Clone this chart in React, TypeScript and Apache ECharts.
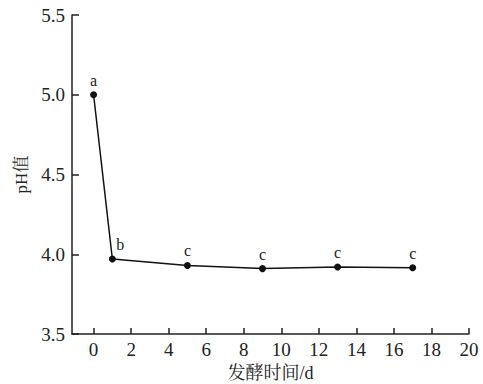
import React, { useEffect, useRef } from "react";
import * as echarts from "echarts";

const days = [0, 1, 5, 9, 13, 17];
const phValues = [5.0, 3.97, 3.93, 3.91, 3.92, 3.915];
const sigLetters = ["a", "b", "c", "c", "c", "c"];
const xTicks = [0, 2, 4, 6, 8, 10, 12, 14, 16, 18, 20];

const FONT = "'Liberation Serif', 'Times New Roman', serif, 'Noto Serif CJK SC', 'Noto Sans CJK SC'";

export default function App() {
  const ref = useRef<HTMLDivElement>(null);
  useEffect(() => {
    if (!ref.current) return;
    const chart = echarts.init(ref.current, undefined, { renderer: "svg" });
    chart.setOption({
      animation: false,
      grid: { left: 72, right: 14, top: 15, bottom: 50, containLabel: false, outerBoundsMode: "none" },
      xAxis: {
        type: "value",
        min: -1.15,
        max: 20,
        name: "发酵时间/d",
        nameLocation: "middle",
        nameGap: 30,
        nameTextStyle: { fontFamily: FONT, fontSize: 18, color: "#222" },
        axisLine: { onZero: false, lineStyle: { color: "#222", width: 1.5 } },
        axisTick: { inside: true, length: 6, customValues: xTicks, lineStyle: { color: "#222", width: 1.5 } },
        axisLabel: { customValues: xTicks, fontFamily: FONT, fontSize: 19, color: "#222", margin: 6 },
        splitLine: { show: false },
      },
      yAxis: {
        type: "value",
        min: 3.5,
        max: 5.5,
        interval: 0.5,
        name: "pH值",
        nameLocation: "middle",
        nameGap: 38,
        nameRotate: 90,
        nameTextStyle: { fontFamily: FONT, fontSize: 17, color: "#222" },
        axisLine: { show: true, onZero: false, lineStyle: { color: "#222", width: 1.5 } },
        axisTick: { show: true, inside: true, length: 7, lineStyle: { color: "#222", width: 1.5 } },
        axisLabel: {
          fontFamily: FONT,
          fontSize: 19,
          color: "#222",
          margin: 7,
          formatter: (v: number) => v.toFixed(1),
        },
        splitLine: { show: false },
      },
      series: [
        {
          type: "line",
          data: days.map((d, i) => [d, phValues[i]]),
          symbol: "circle",
          symbolSize: 7,
          itemStyle: { color: "#111" },
          lineStyle: { color: "#111", width: 1.5 },
          label: {
            show: true,
            position: "top",
            distance: 3,
            fontFamily: FONT,
            fontSize: 16,
            color: "#222",
            formatter: (p: any) => sigLetters[p.dataIndex],
          },
          labelLayout: (p: any) =>
            p.dataIndex === 1 ? { dx: 8, dy: 0 } : {},
        },
      ],
    });
    return () => chart.dispose();
  }, []);
  return <div ref={ref} style={{ width: 483, height: 384, position: "absolute", left: 0, top: 0, background: "#fff" }} />;
}
